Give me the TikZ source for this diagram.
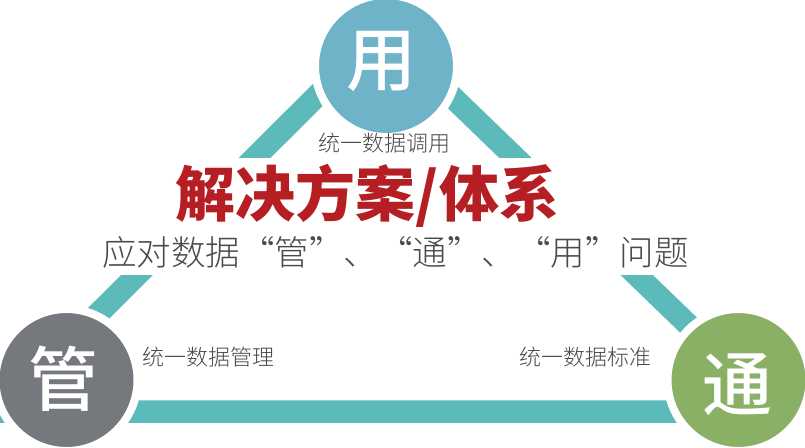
\documentclass[tikz,border=0pt]{standalone}
\usepackage{fontspec}
\newfontfamily\cjk{Noto Sans CJK SC}
\IfFontExistsTF{Noto Sans CJK SC Light}
  {\newfontfamily\cjklight{Noto Sans CJK SC Light}}
  {\newfontfamily\cjklight{Noto Sans CJK SC}}
\IfFontExistsTF{Noto Sans CJK SC Medium}
  {\newfontfamily\cjkmed{Noto Sans CJK SC Medium}}
  {\newfontfamily\cjkmed{Noto Sans CJK SC}}
\definecolor{barteal}{HTML}{5CBABB}
\definecolor{useblue}{HTML}{6FB3C8}
\definecolor{mgray}{HTML}{75787D}
\definecolor{tgreen}{HTML}{8AB065}
\definecolor{titlered}{HTML}{B51E23}
\definecolor{txtgray}{HTML}{4A4A4A}
\tikzset{
  bar/.style={draw=barteal, line width=22.5pt, line join=round},
  bubble/.style={circle, draw=white, line width=8pt, minimum size=142pt, inner sep=0pt},
  bigchar/.style={text=white, inner sep=0pt, font=\cjkmed\fontsize{70}{80}\selectfont},
  lbl/.style={text=txtgray, inner sep=0pt, font=\cjklight\fontsize{22}{26}\selectfont},
}
\begin{document}
\begin{tikzpicture}[x=1pt,y=-1pt]
\clip (0,0) rectangle (805,447);
\fill[white] (0,0) rectangle (805,447);
\coordinate (A) at (383,30);
\coordinate (BL) at (0,411.5);
\coordinate (BR) at (778,411.5);
\draw[bar] (BL) -- (A) -- (BR) -- cycle;
% white band behind the texts
\fill[white] (90,158) rectangle (715,275);
% circles
\node[bubble, fill=useblue] (yong) at (386,66) {};
\node[bubble, fill=mgray] (guan) at (66.5,380) {};
\node[bubble, fill=tgreen] (tong) at (738.5,380) {};
\node[bigchar] (yongt) at (381,62) {用};
\node[bigchar] (guant) at (63.5,378.5) {管};
\node[bigchar] (tongt) at (737.5,385) {通};
% texts
\node[lbl] (l1) at (384.5,143) {统一数据调用};
\node[lbl] (l2) at (208.5,357) {统一数据管理};
\node[lbl] (l3) at (585,357) {统一数据标准};
\node[text=titlered, inner sep=0pt, font=\cjk\bfseries\fontsize{60}{70}\selectfont] (title) at (367.5,195.5) {解决方案/体系};
\node[text=txtgray, inner sep=0pt, font=\cjklight\fontsize{34.5}{40}\selectfont] (sub) at (395.5,252.5) {应对数据“管”、“通”、“用”问题};
\end{tikzpicture}
\end{document}
